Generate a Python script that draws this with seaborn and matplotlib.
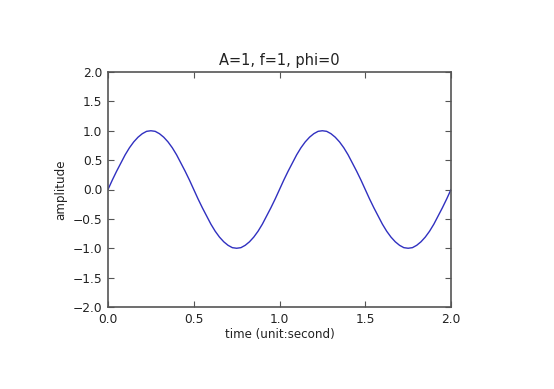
import matplotlib.pyplot as plt
import seaborn as sns
import pandas as pd
import numpy as np

plt.switch_backend('Agg')
sns.set_style("white")
plt.rcParams['font.family'] = ['DejaVu Sans']

t_step = 0.025
period = [0.0, 0.16, 0.31, 0.45, 0.59, 0.71, 0.81, 0.89, 0.95, 0.99,
          1.0, 0.99, 0.95, 0.89, 0.81, 0.71, 0.59, 0.45, 0.31, 0.16,
          0.0, -0.16, -0.31, -0.45, -0.59, -0.71, -0.81, -0.89, -0.95, -0.99,
          -1.0, -0.99, -0.95, -0.89, -0.81, -0.71, -0.59, -0.45, -0.31, -0.16]
amplitude = period + period + [0.0]
time = np.arange(len(amplitude)) * t_step

x_ticks = [0.0, 0.5, 1.0, 1.5, 2.0]
y_ticks = [-2.0, -1.5, -1.0, -0.5, 0.0, 0.5, 1.0, 1.5, 2.0]

df = pd.DataFrame({'time': time, 'amplitude': amplitude})

fig = plt.figure(figsize=(5.54, 3.89), dpi=100)
ax = fig.add_axes([108 / 554, 1 - 307 / 389, (451 - 108) / 554, (307 - 72) / 389])

sns.lineplot(data=df, x='time', y='amplitude', ax=ax, color='#3030c0', linewidth=1.0)

ax.set_xlim(0, 2)
ax.set_ylim(-2, 2)
ax.set_xticks(x_ticks)
ax.set_yticks(y_ticks)
ax.set_xticklabels([f'{v:.1f}' for v in x_ticks])
ax.set_yticklabels([f'{v:.1f}'.replace('-', '\u2212') for v in y_ticks])
ax.tick_params(direction='in', length=4, width=0.8, color='#555555',
               labelsize=8.8, labelcolor='#222222', pad=4,
               top=True, right=True, bottom=True, left=True)
for s in ax.spines.values():
    s.set_color('#555555')
    s.set_linewidth(1.2)

ax.set_title('A=1, f=1, phi=0', fontsize=10.5, color='#222222', pad=5)
ax.set_xlabel('time (unit:second)', fontsize=8.6, color='#222222', labelpad=2)
ax.set_ylabel('amplitude', fontsize=8.6, color='#222222', labelpad=4)

fig.savefig('out.png', dpi=100)
plt.close(fig)
